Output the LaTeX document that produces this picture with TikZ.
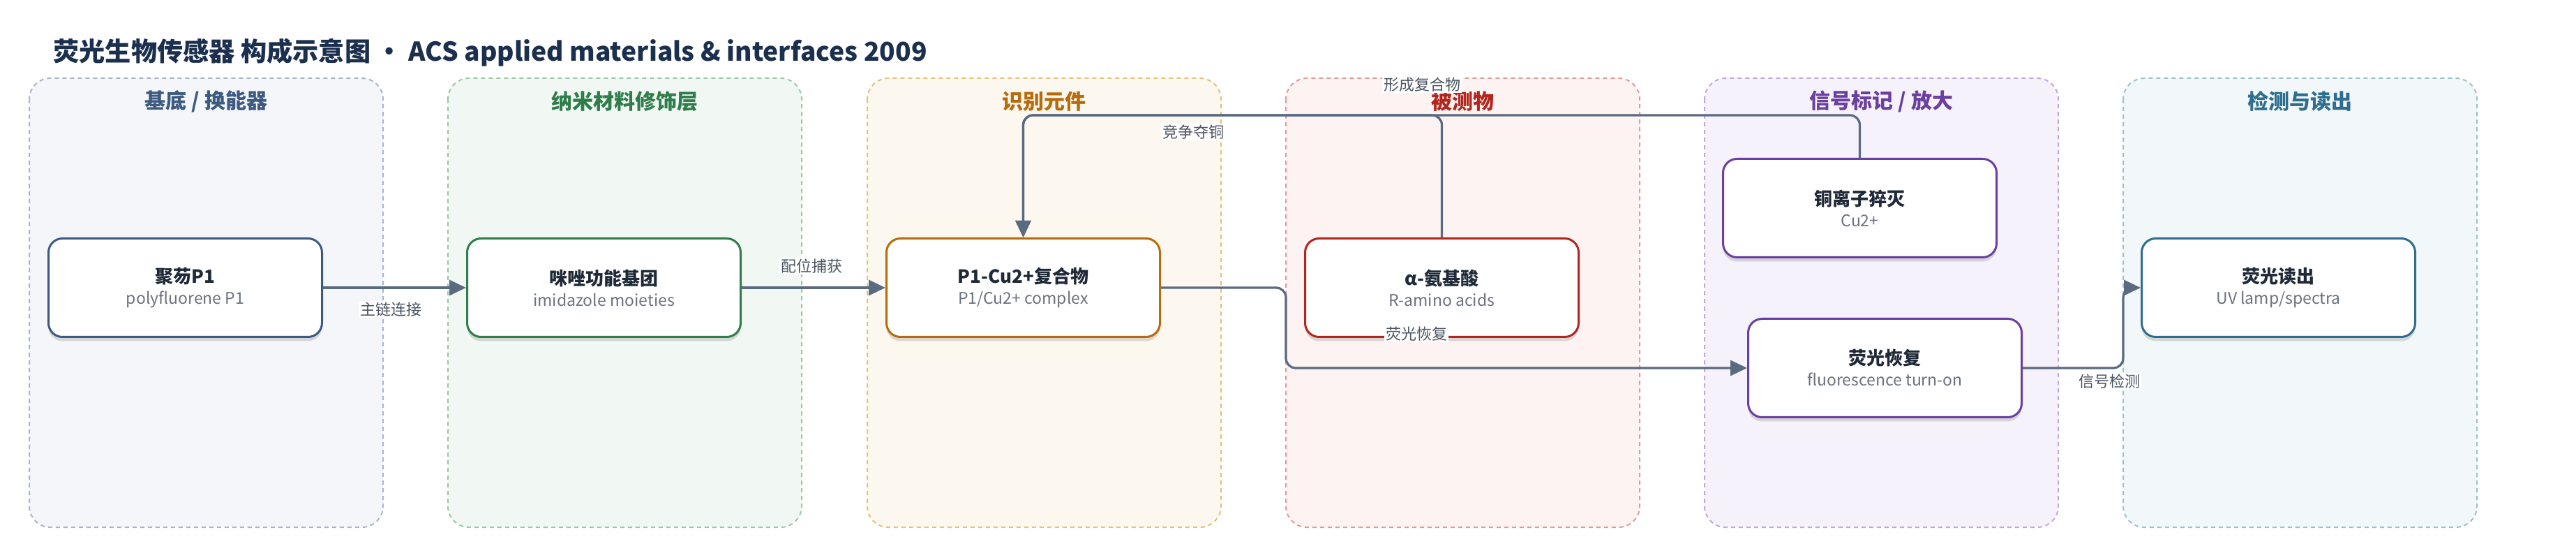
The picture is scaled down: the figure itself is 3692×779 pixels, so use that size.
\documentclass[tikz,border=0pt]{standalone}
\usepackage{fontspec}
\setmainfont{Noto Sans CJK SC}
\usetikzlibrary{arrows.meta,shadows}
\definecolor{lfillA}{HTML}{F4F6FA}\definecolor{ldrawA}{HTML}{A8B5C9}\definecolor{lcolA}{HTML}{3D5A80}
\definecolor{lfillB}{HTML}{F1F8F3}\definecolor{ldrawB}{HTML}{9CC8A8}\definecolor{lcolB}{HTML}{2E7D4A}
\definecolor{lfillC}{HTML}{FDF8EF}\definecolor{ldrawC}{HTML}{E5C07E}\definecolor{lcolC}{HTML}{B86B0C}
\definecolor{lfillD}{HTML}{FDF3F2}\definecolor{ldrawD}{HTML}{E39B97}\definecolor{lcolD}{HTML}{B3261E}
\definecolor{lfillE}{HTML}{F6F2FB}\definecolor{ldrawE}{HTML}{C2A6DD}\definecolor{lcolE}{HTML}{6B3FA0}
\definecolor{lfillF}{HTML}{F2F7F9}\definecolor{ldrawF}{HTML}{9EC0CD}\definecolor{lcolF}{HTML}{2E6E8E}
\definecolor{connc}{HTML}{5A6A80}
\definecolor{titlec}{HTML}{1B2F4E}
\definecolor{ntext}{HTML}{1F2937}
\definecolor{stext}{HTML}{6B7280}
\definecolor{etext}{HTML}{4B5563}
\newcommand{\nodetext}[2]{{\fontsize{13pt}{16pt}\selectfont\bfseries\color{ntext}#1}\\[3pt]{\fontsize{11.5pt}{14pt}\selectfont\color{stext}#2}}
\begin{document}
\begin{tikzpicture}[x=0.5pt,y=-0.5pt,
  lanebox/.style 2 args={draw=#1, fill=#2, line width=1pt, dash pattern=on 3pt off 2.5pt, rounded corners=15pt},
  lanetitle/.style={font=\fontsize{15pt}{18pt}\selectfont\bfseries, text=#1},
  nodebox/.style={draw=#1, fill=white, line width=1.5pt, rounded corners=10pt,
    minimum width=196pt, minimum height=70.5pt, align=center, inner sep=0pt,
    drop shadow={shadow xshift=0pt, shadow yshift=-3pt, opacity=0.13, fill=black}},
  conn/.style={draw=connc, line width=1.6pt, rounded corners=7pt},
  arr/.style={-{Triangle[length=12pt,width=11pt]}},
  elabel/.style={font=\fontsize{11pt}{13pt}\selectfont, text=etext, fill=white, inner sep=1pt}
]
\useasboundingbox (0,0) rectangle (3692,779);
% title
\node[anchor=west, font=\fontsize{18.6pt}{22pt}\selectfont\bfseries, text=titlec, inner sep=0pt] (title) at (76,75)
  {荧光生物传感器 构成示意图 · ACS applied materials \& interfaces 2009};
% lanes
\path[lanebox={ldrawA}{lfillA}] (42,112) rectangle (549,755);
\path[lanebox={ldrawB}{lfillB}] (642,112) rectangle (1149,755);
\path[lanebox={ldrawC}{lfillC}] (1243,112) rectangle (1750,755);
\path[lanebox={ldrawD}{lfillD}] (1843,112) rectangle (2350,755);
\path[lanebox={ldrawE}{lfillE}] (2443,112) rectangle (2950,755);
\path[lanebox={ldrawF}{lfillF}] (3043,112) rectangle (3550,755);
\node[lanetitle=lcolA] (tA) at (295.5,145) {基底 / 换能器};
\node[lanetitle=lcolB] (tB) at (895.5,145) {纳米材料修饰层};
\node[lanetitle=lcolC] (tC) at (1496.5,145) {识别元件};
\node[lanetitle=lcolD] (tD) at (2096.5,145) {被测物};
\node[lanetitle=lcolE] (tE) at (2696.5,145) {信号标记 / 放大};
\node[lanetitle=lcolF] (tF) at (3296.5,145) {检测与读出};
% nodes
\node[nodebox=lcolA] (n1) at (265.5,412) {\nodetext{聚芴P1}{polyfluorene P1}};
\node[nodebox=lcolB] (n2) at (865.5,412) {\nodetext{咪唑功能基团}{imidazole moieties}};
\node[nodebox=lcolC] (n3) at (1466.5,412) {\nodetext{P1-Cu2+复合物}{P1/Cu2+ complex}};
\node[nodebox=lcolD] (n4) at (2066.5,412) {\nodetext{α-氨基酸}{R-amino acids}};
\node[nodebox=lcolE] (n5) at (2665.5,298) {\nodetext{铜离子猝灭}{Cu2+}};
\node[nodebox=lcolE] (n6) at (2701.5,527) {\nodetext{荧光恢复}{fluorescence turn-on}};
\node[nodebox=lcolF] (n7) at (3265.5,412) {\nodetext{荧光读出}{UV lamp/spectra}};
% helper coordinates
\coordinate (ty) at (0,165);
\coordinate (xa) at (1843,0);
\coordinate (xb) at (3043,0);
% connectors
\draw[conn,arr] (n1.east) -- (n2.west);
\draw[conn,arr] (n2.east) -- (n3.west);
\draw[conn,arr] (n5.north) -- (n5.north |- ty) -- (n3.north |- ty) -- (n3.north);
\draw[conn,arr] (n4.north) -- (n4.north |- ty) -- (n3.north |- ty) -- (n3.north);
\draw[conn,arr] (n3.east) -- (n3.east -| xa) -- (xa |- n6.west) -- (n6.west);
\draw[conn,arr] (n6.east) -- (n6.east -| xb) -- (xb |- n7.west) -- (n7.west);
% labels
\node[elabel] (e1) at (560,443) {主链连接};
\node[elabel] (e2) at (1163,381) {配位捕获};
\node[elabel] (e3) at (2038,121) {形成复合物};
\node[elabel] (e4) at (1710,189) {竞争夺铜};
\node[elabel] (e5) at (2030,478) {荧光恢复};
\node[elabel] (e6) at (3023,546) {信号检测};
\end{tikzpicture}
\end{document}
